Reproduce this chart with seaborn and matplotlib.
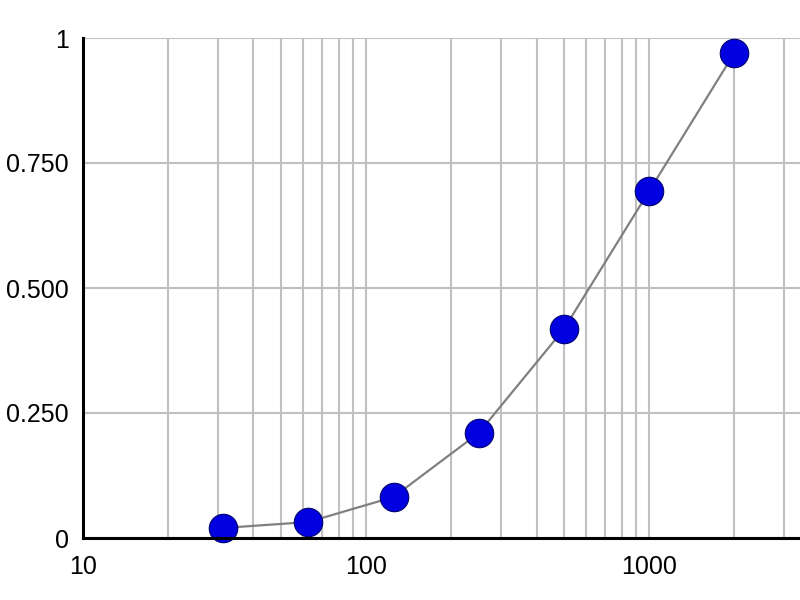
import numpy as np
import pandas as pd
import matplotlib
matplotlib.use("Agg")
import matplotlib.pyplot as plt
import matplotlib.ticker as mticker
import seaborn as sns

# standard concentrations and measured OD
conc = [31.25, 62.5, 125, 250, 500, 1000, 2000]
od = [0.020, 0.032, 0.082, 0.210, 0.418, 0.694, 0.970]
y_ticks = [0, 0.25, 0.5, 0.75, 1]
y_labels = ["0", "0.250", "0.500", "0.750", "1"]
x_ticks = [10, 100, 1000]
x_labels = ["10", "100", "1000"]

df = pd.DataFrame({"conc": conc, "od": od})

sns.set_style("white")
plt.rcParams['font.family'] = ['Liberation Sans', 'DejaVu Sans']

fig = plt.figure(figsize=(8, 6), dpi=100)
ax = fig.add_axes([83 / 800, 62 / 600, 717 / 800, 500 / 600])

sns.lineplot(data=df, x="conc", y="od", ax=ax, color="#808080", linewidth=1.6, zorder=3)
sns.scatterplot(data=df, x="conc", y="od", ax=ax, color="#0000e0", edgecolor="#000070",
                linewidth=0.8, s=420, zorder=4, clip_on=False)

xmin = 10.4
ax.set_xscale("log")
ax.set_xlim(xmin, 10 ** (np.log10(xmin) + 717 / 285))
ax.set_ylim(0, 1)

ax.xaxis.set_major_locator(mticker.FixedLocator(x_ticks))
ax.xaxis.set_minor_locator(mticker.LogLocator(base=10, subs=np.arange(2, 10)))
ax.xaxis.set_minor_formatter(mticker.NullFormatter())
ax.set_xticks(x_ticks)
ax.set_xticklabels(x_labels)
ax.set_yticks(y_ticks)
ax.set_yticklabels(y_labels)
# keep the "10" label visible at the left edge
for lbl in ax.get_xticklabels():
    lbl.set_clip_on(False)

ax.grid(True, which="both", axis="x", color="#c0c0c0", linewidth=1.5)
ax.grid(True, which="major", axis="y", color="#c0c0c0", linewidth=1.5)
ax.set_axisbelow(True)

for side in ["top", "right"]:
    ax.spines[side].set_visible(False)
for side in ["left", "bottom"]:
    ax.spines[side].set_color("black")
    ax.spines[side].set_linewidth(2.2)
    ax.spines[side].set_zorder(5)

ax.tick_params(axis="both", which="both", length=0, labelsize=18, colors="black")
ax.tick_params(axis="x", pad=12)
ax.tick_params(axis="y", pad=10)
ax.set_xlabel("")
ax.set_ylabel("")

fig.savefig("out.png", dpi=100)
